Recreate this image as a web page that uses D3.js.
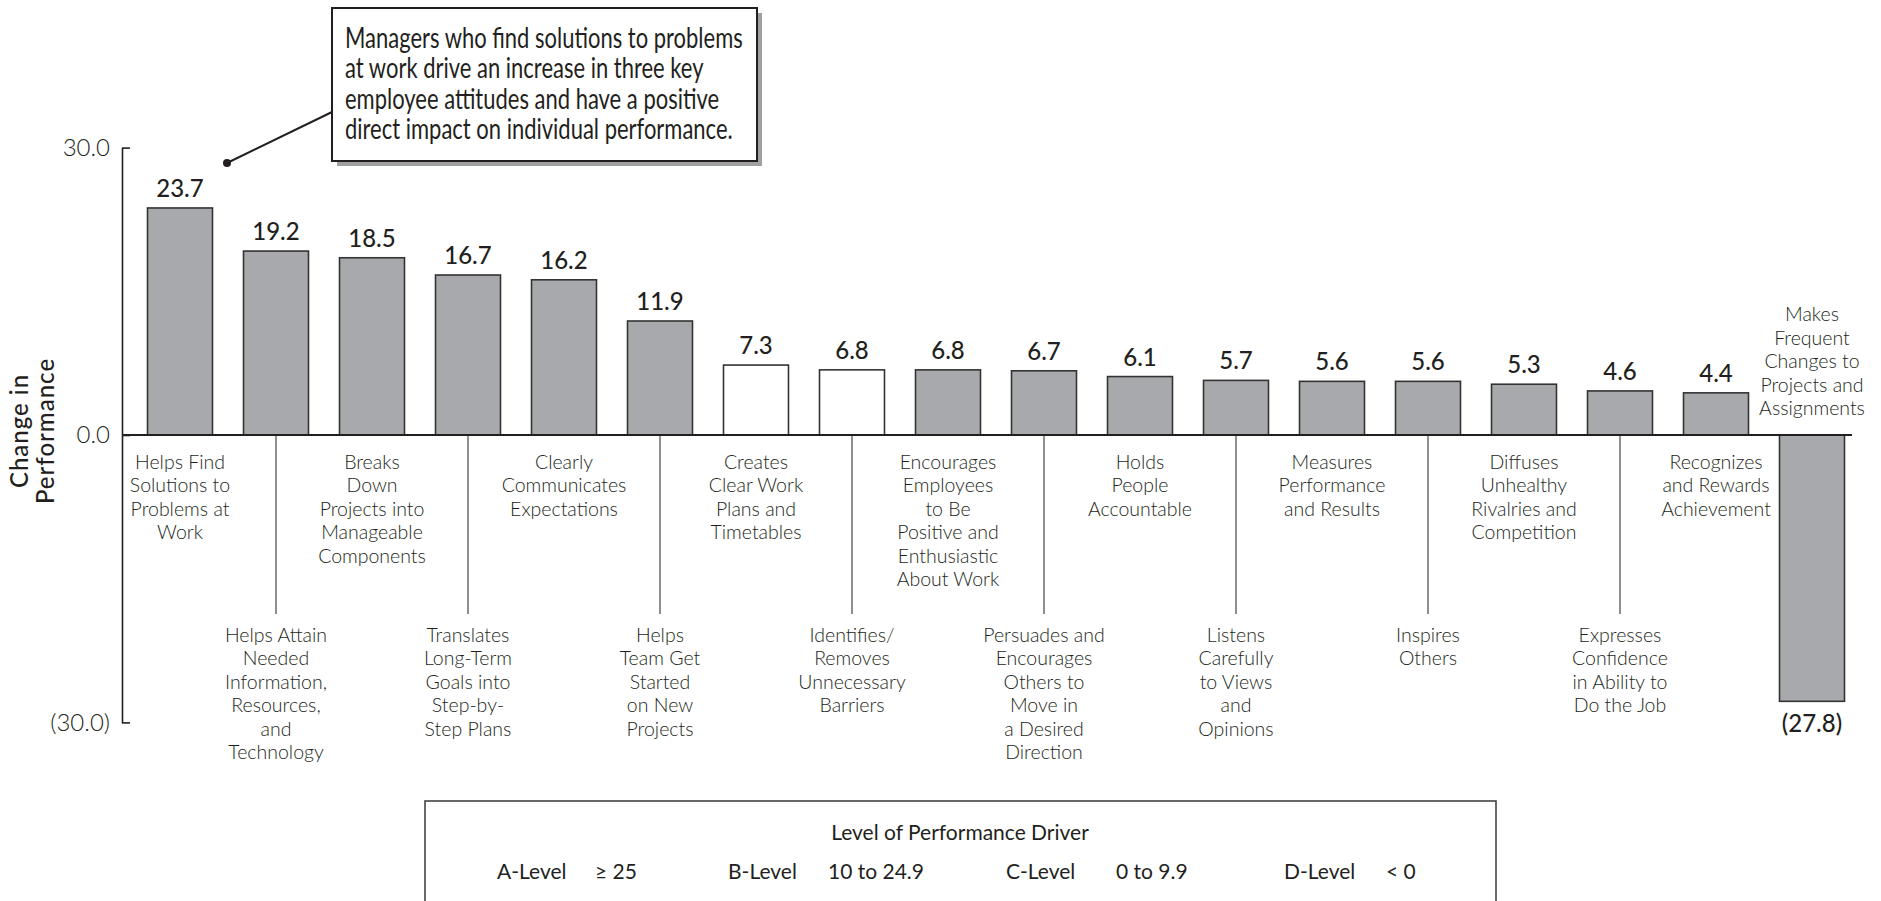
<!DOCTYPE html>
<html>
<head>
<meta charset="utf-8">
<script src="https://cdn.jsdelivr.net/npm/d3@7"></script>
<style>
  html, body { margin: 0; padding: 0; background: #fff; }
  svg { display: block; }
  text { font-family: Lato, "Open Sans", sans-serif; fill: #231f20; }
</style>
</head>
<body>
<svg id="chart" width="1881" height="901"></svg>
<script>
// Manager behaviours, each label broken into its printed lines
const categories = [
  "Helps Find\nSolutions to\nProblems at\nWork",
  "Helps Attain\nNeeded\nInformation,\nResources,\nand\nTechnology",
  "Breaks\nDown\nProjects into\nManageable\nComponents",
  "Translates\nLong-Term\nGoals into\nStep-by-\nStep Plans",
  "Clearly\nCommunicates\nExpectations",
  "Helps\nTeam Get\nStarted\non New\nProjects",
  "Creates\nClear Work\nPlans and\nTimetables",
  "Identifies/\nRemoves\nUnnecessary\nBarriers",
  "Encourages\nEmployees\nto Be\nPositive and\nEnthusiastic\nAbout Work",
  "Persuades and\nEncourages\nOthers to\nMove in\na Desired\nDirection",
  "Holds\nPeople\nAccountable",
  "Listens\nCarefully\nto Views\nand\nOpinions",
  "Measures\nPerformance\nand Results",
  "Inspires\nOthers",
  "Diffuses\nUnhealthy\nRivalries and\nCompetition",
  "Expresses\nConfidence\nin Ability to\nDo the Job",
  "Recognizes\nand Rewards\nAchievement",
  "Makes\nFrequent\nChanges to\nProjects and\nAssignments"
];

// Change in performance for each behaviour
const values = [23.7, 19.2, 18.5, 16.7, 16.2, 11.9, 7.3, 6.8, 6.8, 6.7, 6.1, 5.7, 5.6, 5.6, 5.3, 4.6, 4.4, -27.8];

// Behaviours drawn as open (unfilled) bars
const openBars = [
  "Creates\nClear Work\nPlans and\nTimetables",
  "Identifies/\nRemoves\nUnnecessary\nBarriers"
];

const yTicks = [30, 0, -30];

const calloutLines = [
  "Managers who find solutions to problems",
  "at work drive an increase in three key",
  "employee attitudes and have a positive",
  "direct impact on individual performance."
];

const legendTitle = "Level of Performance Driver";
const legendLevels = ["A-Level", "B-Level", "C-Level", "D-Level"];
const legendRanges = ["\u2265 25", "10 to 24.9", "0 to 9.9", "< 0"];

const ink = "#231f20";
const svg = d3.select("#chart");

const fmt = v => v < 0 ? "(" + d3.format(".1f")(-v) + ")" : d3.format(".1f")(v);

const x = d3.scaleBand()
  .domain(categories)
  .range([132, 1860])
  .paddingInner(0.323)
  .paddingOuter(0.1615);

const y = d3.scaleLinear().domain([-30, 30]).range([722.4, 147.6]);
const axisX = 122;
const lineH = 23.4;

// Y axis with inward ticks
const yAxis = svg.append("g")
  .attr("transform", `translate(${axisX},0)`)
  .call(d3.axisLeft(y).tickValues(yTicks).tickSize(-8).tickSizeOuter(0).tickPadding(12).tickFormat(fmt));
yAxis.select(".domain").attr("stroke", ink).attr("stroke-width", 1.6);
yAxis.selectAll(".tick line").attr("stroke", ink).attr("stroke-width", 1.6);
yAxis.selectAll(".tick text")
  .attr("font-family", "Lato, sans-serif")
  .attr("font-weight", 300)
  .attr("font-size", 24)
  .attr("fill", ink);

// Y axis title, two rotated lines
const titleLines = [["Change in", 28], ["Performance", 54]];
titleLines.forEach(([txt, bx]) => {
  svg.append("text")
    .attr("transform", `translate(${bx},431) rotate(-90)`)
    .attr("text-anchor", "middle")
    .attr("font-size", 24)
    .attr("font-weight", 500)
    .attr("letter-spacing", 1)
    .text(txt);
});

// Divider lines beneath alternating bars
const lowered = categories.filter((c, i) => i % 2 === 1 && i < categories.length - 1);
svg.append("g").selectAll("line")
  .data(lowered)
  .join("line")
  .attr("x1", d => x(d) + x.bandwidth() / 2)
  .attr("x2", d => x(d) + x.bandwidth() / 2)
  .attr("y1", y(0))
  .attr("y2", 614)
  .attr("stroke", "#444")
  .attr("stroke-width", 1.2);

// Bars
const data = categories.map((c, i) => ({ c, v: values[i], i }));
svg.append("g").selectAll("rect")
  .data(data)
  .join("rect")
  .attr("x", d => x(d.c))
  .attr("width", x.bandwidth())
  .attr("y", d => y(Math.max(0, d.v)))
  .attr("height", d => Math.abs(y(d.v) - y(0)))
  .attr("fill", d => openBars.includes(d.c) ? "#ffffff" : "#a7a9ac")
  .attr("stroke", "#333")
  .attr("stroke-width", 1.6);

// Zero line
svg.append("line")
  .attr("x1", axisX).attr("x2", 1852)
  .attr("y1", y(0)).attr("y2", y(0))
  .attr("stroke", ink).attr("stroke-width", 2.2);

// Value labels
svg.append("g").selectAll("text")
  .data(data)
  .join("text")
  .attr("x", d => x(d.c) + x.bandwidth() / 2)
  .attr("y", d => d.v >= 0 ? y(d.v) - 11 : y(d.v) + 31)
  .attr("text-anchor", "middle")
  .attr("font-size", 24)
  .attr("font-weight", 500)
  .text(d => fmt(d.v));

// Category labels: alternate upper and lower rows, last one sits above its bar
const labels = svg.append("g")
  .attr("font-size", 19.5)
  .attr("font-weight", 300);
data.forEach(d => {
  const lines = d.c.split("\n");
  const cx = x(d.c) + x.bandwidth() / 2;
  let firstY;
  if (d.v < 0) firstY = y(0) - 28 - (lines.length - 1) * lineH;
  else if (d.i % 2 === 0) firstY = 461;
  else firstY = 634;
  const t = labels.append("text")
    .attr("text-anchor", "middle")
    .attr("dominant-baseline", "central");
  lines.forEach((ln, k) => {
    t.append("tspan").attr("x", cx).attr("y", firstY + k * lineH).text(ln);
  });
});

// Callout box with shadow and leader line
const box = { x: 332, y: 8, w: 425, h: 153 };
svg.append("rect")
  .attr("x", box.x + 5).attr("y", box.y + 5)
  .attr("width", box.w).attr("height", box.h)
  .attr("fill", "#a0a0a0");
svg.append("rect")
  .attr("x", box.x).attr("y", box.y)
  .attr("width", box.w).attr("height", box.h)
  .attr("fill", "#fff").attr("stroke", ink).attr("stroke-width", 2);
svg.append("line")
  .attr("x1", 227).attr("y1", 163)
  .attr("x2", box.x).attr("y2", 112)
  .attr("stroke", ink).attr("stroke-width", 2);
svg.append("circle")
  .attr("cx", 227).attr("cy", 163).attr("r", 4)
  .attr("fill", ink);

const callout = svg.append("g");
const ct = callout.append("text")
  .attr("font-size", 28)
  .attr("font-weight", 400);
calloutLines.forEach((ln, k) => {
  ct.append("tspan").attr("x", 0).attr("y", 48 + k * 30.5).text(ln);
});
const firstW = ct.select("tspan").node().getComputedTextLength();
callout.attr("transform", `translate(345,0) scale(${398 / firstW},1)`);

// Legend box
svg.append("rect")
  .attr("x", 425).attr("y", 801)
  .attr("width", 1071).attr("height", 140)
  .attr("fill", "none").attr("stroke", "#444").attr("stroke-width", 1.6);
svg.append("text")
  .attr("x", 960).attr("y", 831)
  .attr("text-anchor", "middle")
  .attr("dominant-baseline", "central")
  .attr("font-size", 21)
  .attr("font-weight", 400)
  .text(legendTitle);

const levelX = [497, 728, 1006, 1284];
const rangeX = [595, 828, 1116, 1386];
const lg = svg.append("g").attr("font-size", 21).attr("font-weight", 400);
legendLevels.forEach((lv, i) => {
  lg.append("text").attr("x", levelX[i]).attr("y", 870)
    .attr("dominant-baseline", "central").text(lv);
  lg.append("text").attr("x", rangeX[i]).attr("y", 870)
    .attr("dominant-baseline", "central").text(legendRanges[i]);
});
</script>
</body>
</html>
